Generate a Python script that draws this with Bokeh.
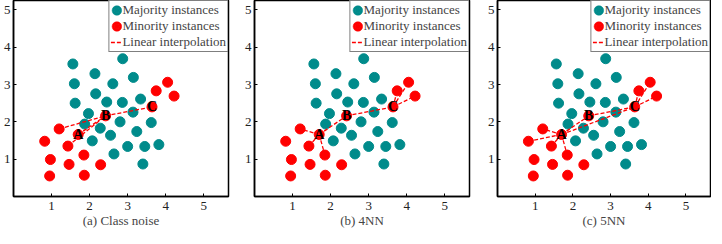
from bokeh.plotting import figure
from bokeh.layouts import row
from bokeh.models import Range1d, ColumnDataSource, FixedTicker, Legend, LegendItem
from bokeh.core.properties import value
from bokeh.embed import file_html
from bokeh.resources import INLINE

majority_x = [1.56, 2.87, 2.14, 1.60, 2.61, 3.15, 2.16, 1.62, 2.45, 2.86, 3.34, 1.97, 3.14,
              1.87, 2.80, 3.62, 2.28, 3.24, 2.55, 2.07, 3.00, 3.45, 3.82, 2.64, 3.40]
majority_y = [3.55, 3.69, 3.29, 3.02, 3.02, 3.19, 2.75, 2.50, 2.53, 2.52, 2.61, 2.22, 2.26,
              1.94, 2.00, 1.98, 1.83, 1.74, 1.64, 1.49, 1.34, 1.34, 1.39, 1.14, 0.87]

minority_x = [4.05, 3.75, 4.22, 3.64, 2.42, 1.20, 1.70, 0.82, 1.43, 1.85, 0.97, 1.46, 2.29, 0.95, 1.86]
minority_y = [3.06, 2.83, 2.69, 2.40, 2.16, 1.81, 1.66, 1.48, 1.35, 1.11, 0.99, 0.86, 0.85, 0.55, 0.57]

labeled_idx = [6, 4, 3]
labels = ["A", "B", "C"]

panel_titles = ["(a) Class noise", "(b) 4NN", "(c) 5NN"]
panel_pairs = [
    [(6, 4), (4, 3), (5, 4), (8, 4)],
    [(6, 4), (4, 3), (6, 5), (6, 8), (6, 9), (3, 1), (3, 0), (3, 2)],
    [(6, 4), (4, 3), (6, 3), (6, 5), (6, 7), (6, 8), (6, 9), (3, 1), (3, 0), (3, 2)],
]
ticks = [1, 2, 3, 4, 5]

TEAL = "#008B8B"
RED = "#FF0000"
FONT = "Liberation Serif"
NAN = float("nan")

borders = [(8, 12), (14, 14), (14, 1)]
frame_widths = [215, 215, 213]

figs = []
for k in range(3):
    p = figure(output_backend="svg", toolbar_location=None,
               frame_width=frame_widths[k], frame_height=196,
               x_range=Range1d(0, 5.65), y_range=Range1d(0, 5.25),
               min_border_left=borders[k][0], min_border_right=borders[k][1],
               min_border_top=0, min_border_bottom=0)
    p.background_fill_color = "white"
    p.border_fill_color = "white"
    p.grid.visible = False
    p.outline_line_color = "black"
    p.outline_line_width = 1.5
    p.outline_line_alpha = 1.0
    for ax in (p.xaxis[0], p.yaxis[0]):
        ax.ticker = FixedTicker(ticks=ticks)
        ax.minor_tick_line_color = None
        ax.major_tick_in = 3
        ax.major_tick_out = 0
        ax.major_tick_line_color = "black"
        ax.axis_line_color = "black"
        ax.axis_line_width = 1.5
        ax.major_label_text_font = FONT
        ax.major_label_text_font_size = "13px"
        ax.major_label_text_color = "#222222"
    p.xaxis.major_label_standoff = 5
    p.yaxis.major_label_standoff = 3
    p.xaxis.axis_label = panel_titles[k]
    p.xaxis.axis_label_text_font = FONT
    p.xaxis.axis_label_text_font_size = "13px"
    p.xaxis.axis_label_text_font_style = "normal"
    p.xaxis.axis_label_standoff = 0

    maj = p.circle(majority_x, majority_y, radius=5, radius_units="screen",
                   fill_color=TEAL, line_color=TEAL)
    mino = p.circle(minority_x, minority_y, radius=5, radius_units="screen",
                    fill_color=RED, line_color=RED)
    # invisible (NaN) ring renderers: only used to enlarge the legend keys
    maj_ring = p.annulus(x=[NAN], y=[NAN], inner_radius=1, outer_radius=2,
                         fill_color=TEAL, line_color=TEAL, line_width=0.5)
    mino_ring = p.annulus(x=[NAN], y=[NAN], inner_radius=1, outer_radius=2,
                          fill_color=RED, line_color=RED, line_width=0.5)

    pairs = panel_pairs[k]
    seg = ColumnDataSource(dict(
        x0=[minority_x[a] for a, b in pairs], y0=[minority_y[a] for a, b in pairs],
        x1=[minority_x[b] for a, b in pairs], y1=[minority_y[b] for a, b in pairs]))
    lines = p.segment("x0", "y0", "x1", "y1", source=seg, line_color=RED,
                      line_width=1.3, line_dash="4 2")

    p.text([minority_x[i] for i in labeled_idx], [minority_y[i] for i in labeled_idx],
           text=labels, text_font=value(FONT), text_font_size="14px",
           text_font_style="bold", text_color="black",
           text_align="center", text_baseline="middle")

    legend = Legend(items=[
        LegendItem(label="Majority instances", renderers=[maj, maj_ring]),
        LegendItem(label="Minority instances", renderers=[mino, mino_ring]),
        LegendItem(label="Linear interpolation", renderers=[lines]),
    ], location="top_right")
    legend.margin = 0
    legend.padding = 1
    legend.spacing = 0
    legend.glyph_width = 12
    legend.glyph_height = 16
    legend.label_standoff = 0
    legend.label_height = 16
    legend.label_text_font = FONT
    legend.label_text_font_size = "13px"
    legend.border_line_color = "black"
    legend.border_line_width = 1.5
    legend.background_fill_alpha = 1.0
    p.add_layout(legend)
    figs.append(p)

layout = row(*figs, spacing=0)
open("out.html", "w").write(file_html(layout, INLINE))
